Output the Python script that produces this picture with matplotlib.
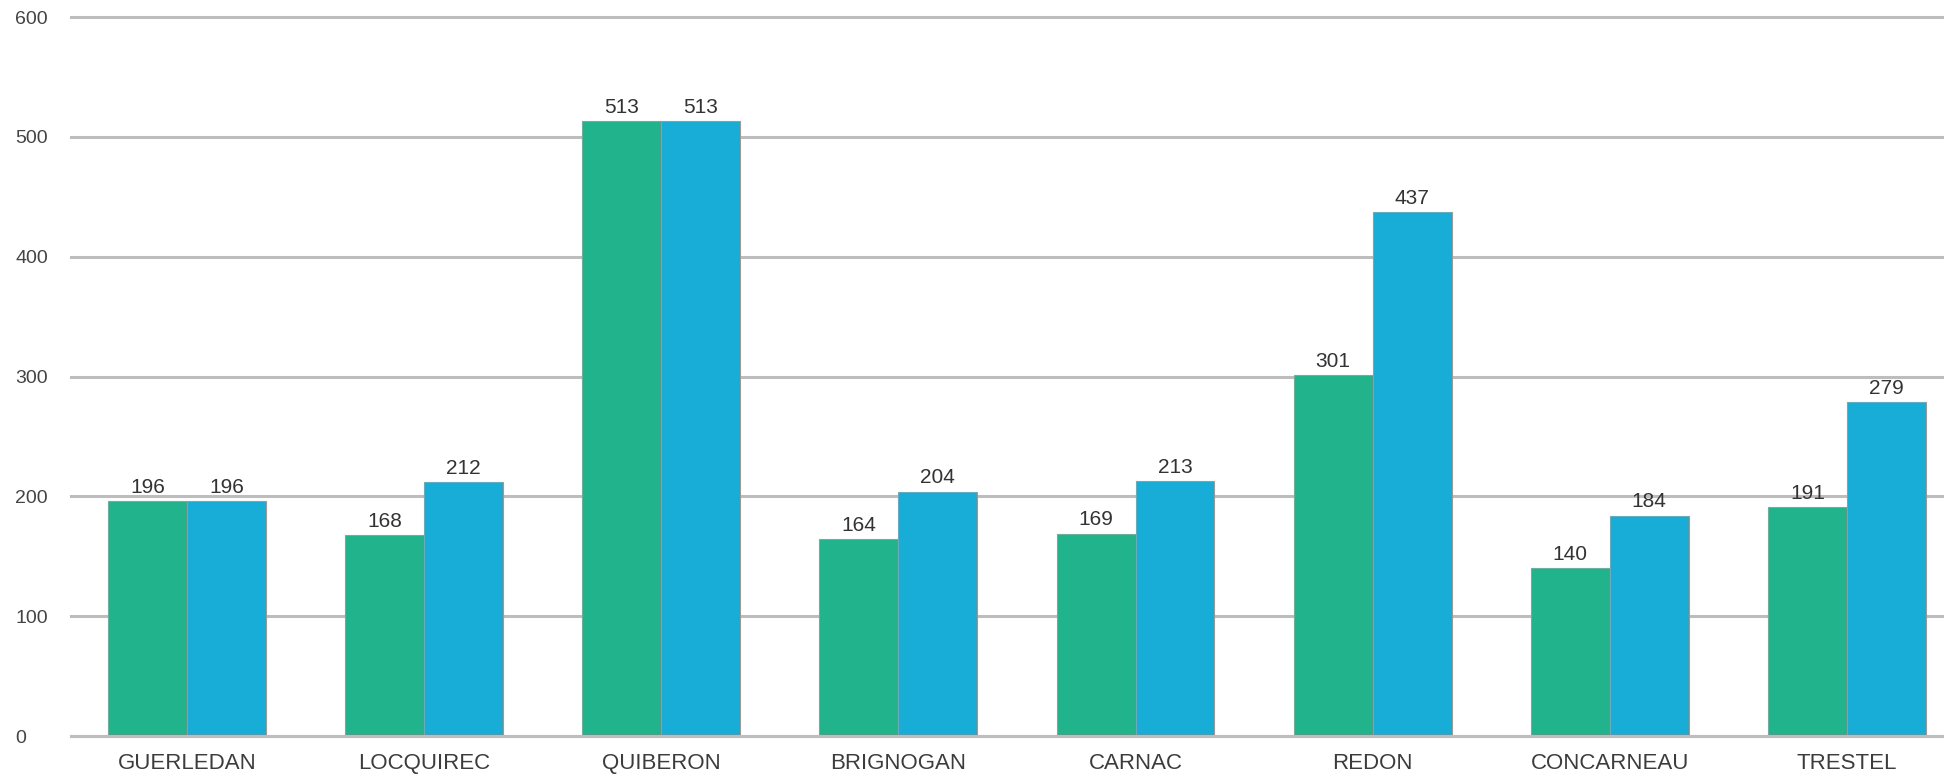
import matplotlib.pyplot as plt
import numpy as np

villes = ["GUERLEDAN", "LOCQUIREC", "QUIBERON", "BRIGNOGAN",
          "CARNAC", "REDON", "CONCARNEAU", "TRESTEL"]
serie_verte = [196, 168, 513, 164, 169, 301, 140, 191]
serie_bleue = [196, 212, 513, 204, 213, 437, 184, 279]
graduations = [0, 100, 200, 300, 400, 500, 600]

vert = "#21B38B"
bleu = "#17ADD6"
gris = "#BDBDBD"

plt.rcParams['font.family'] = ['Liberation Sans', 'DejaVu Sans']

fig = plt.figure(figsize=(19.44, 7.75), dpi=100)
ax = fig.add_axes([0.0365, 0.0503, 0.9635, 0.9277])

x = np.arange(len(villes))
larg = 0.333

for g in graduations:
    ax.axhline(g, color=gris, lw=2.2, zorder=1, clip_on=False)

b1 = ax.bar(x - larg / 2, serie_verte, larg, color=vert,
            edgecolor="#9a9a9a", linewidth=0.8, zorder=2)
b2 = ax.bar(x + larg / 2, serie_bleue, larg, color=bleu,
            edgecolor="#9a9a9a", linewidth=0.8, zorder=2)
ax.axhline(0, color=gris, lw=2.2, zorder=3, clip_on=False)

for barres in (b1, b2):
    ax.bar_label(barres, padding=3, fontsize=15, color="#333333")

ax.set_xlim(-0.49, 7.41)
ax.set_ylim(0, 600)
ax.set_xticks(x)
ax.set_xticklabels(villes, fontsize=16, color="#3c3c3c")
ax.set_yticks(graduations)
ax.set_yticklabels([str(g) for g in graduations], fontsize=14,
                   color="#444444", ha="left")
ax.tick_params(axis="y", length=0, pad=40)
ax.tick_params(axis="x", length=0, pad=12)
for s in ax.spines.values():
    s.set_visible(False)

plt.savefig("out.png", format="png")
